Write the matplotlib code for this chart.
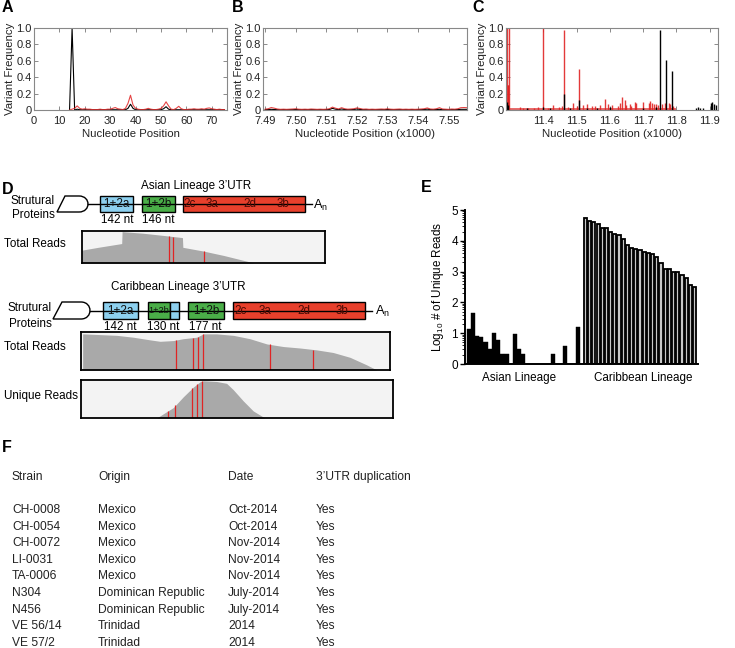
import numpy as np
import matplotlib.pyplot as plt
from matplotlib import font_manager
from matplotlib.patches import Rectangle, PathPatch
from matplotlib.path import Path

# the reference text is tall and narrow: use the narrow cut if it is there
_names = {f.name for f in font_manager.fontManager.ttflist}
if 'Liberation Sans Narrow' in _names:
    FONT, K = 'Liberation Sans Narrow', 1.0
else:
    FONT, K = 'Liberation Sans', 0.82
plt.rcParams['font.family'] = [FONT, 'DejaVu Sans']

# ---------------- data ----------------
# panel A: variant frequency at nucleotide positions 14-75
pos_A = np.arange(14, 76)
black_A = [0.0, 1.0, 0.0, 0.01, 0.003, 0.003, 0.003, 0.003, 0.003, 0.003,
           0.003, 0.003, 0.003, 0.003, 0.003, 0.003, 0.003, 0.003, 0.003, 0.003,
           0.003, 0.003, 0.003, 0.02, 0.07, 0.02, 0.003, 0.003, 0.003, 0.003,
           0.003, 0.003, 0.003, 0.003, 0.003, 0.003, 0.003, 0.015, 0.04, 0.01,
           0.003, 0.003, 0.003, 0.003, 0.003, 0.003, 0.003, 0.003, 0.003, 0.003,
           0.003, 0.003, 0.003, 0.003, 0.003, 0.003, 0.003, 0.003, 0.003, 0.003,
           0.003, 0.003]
red_A = [0.0, 0.01, 0.02, 0.05, 0.02, 0.01, 0.015, 0.01, 0.01, 0.005,
         0.005, 0.005, 0.01, 0.005, 0.005, 0.01, 0.01, 0.02, 0.03, 0.015,
         0.01, 0.005, 0.02, 0.08, 0.18, 0.06, 0.02, 0.01, 0.005, 0.005,
         0.01, 0.02, 0.01, 0.005, 0.005, 0.01, 0.02, 0.05, 0.10, 0.05,
         0.01, 0.005, 0.02, 0.045, 0.015, 0.005, 0.005, 0.01, 0.01, 0.015,
         0.01, 0.01, 0.015, 0.01, 0.02, 0.025, 0.015, 0.01, 0.005, 0.01,
         0.005, 0.005]

# panel B: positions 7490-7556 (plotted x1000)
pos_B = np.arange(7490, 7557)
red_B = [0.010, 0.015, 0.030, 0.022, 0.012, 0.008, 0.010, 0.008, 0.010, 0.012,
         0.015, 0.010, 0.008, 0.010, 0.008, 0.012, 0.010, 0.008, 0.010, 0.008,
         0.010, 0.015, 0.035, 0.022, 0.012, 0.028, 0.015, 0.010, 0.012, 0.015,
         0.025, 0.018, 0.010, 0.012, 0.008, 0.010, 0.008, 0.010, 0.012, 0.010,
         0.015, 0.010, 0.008, 0.010, 0.012, 0.008, 0.010, 0.008, 0.010, 0.008,
         0.010, 0.012, 0.015, 0.025, 0.012, 0.010, 0.015, 0.028, 0.012, 0.010,
         0.008, 0.012, 0.010, 0.015, 0.028, 0.030, 0.028]
black_B = [0.004, 0.005, 0.008, 0.006, 0.004, 0.003, 0.004, 0.003, 0.004, 0.004,
           0.006, 0.004, 0.003, 0.004, 0.003, 0.004, 0.004, 0.003, 0.004, 0.003,
           0.004, 0.006, 0.020, 0.010, 0.005, 0.012, 0.006, 0.004, 0.004, 0.006,
           0.012, 0.007, 0.004, 0.004, 0.003, 0.004, 0.003, 0.004, 0.004, 0.004,
           0.006, 0.004, 0.003, 0.004, 0.004, 0.003, 0.004, 0.003, 0.004, 0.003,
           0.004, 0.004, 0.006, 0.010, 0.005, 0.004, 0.006, 0.008, 0.004, 0.004,
           0.003, 0.004, 0.004, 0.005, 0.008, 0.008, 0.008]

# panel C: spikes (position, frequency)
red_C_pos = [11291, 11293, 11295, 11297, 11330, 11340, 11355, 11372, 11385, 11400,
             11415, 11430, 11447, 11455, 11463, 11475, 11490, 11500, 11508, 11520,
             11530, 11545, 11555, 11570, 11585, 11595, 11605, 11625, 11632, 11637,
             11645, 11650, 11660, 11665, 11675, 11680, 11700, 11718, 11722, 11726,
             11732, 11738, 11745, 11758, 11765, 11778, 11782, 11790]
red_C_val = [1.0, 0.3, 0.3, 1.0, 0.04, 0.03, 0.03, 0.03, 0.04, 1.0,
             0.03, 0.06, 0.04, 0.05, 0.97, 0.04, 0.08, 0.05, 0.50, 0.06,
             0.07, 0.05, 0.05, 0.06, 0.13, 0.07, 0.06, 0.05, 0.08, 0.16,
             0.12, 0.06, 0.07, 0.05, 0.10, 0.08, 0.10, 0.08, 0.11, 0.09,
             0.07, 0.07, 0.06, 0.07, 0.08, 0.09, 0.07, 0.05]
black_C_pos = [11292, 11295, 11350, 11400, 11420, 11463, 11480, 11508, 11530, 11560,
               11600, 11700, 11740, 11751, 11768, 11786, 11860, 11865, 11870, 11880,
               11905, 11908, 11912, 11920]
black_C_val = [0.10, 0.06, 0.02, 0.04, 0.02, 0.20, 0.03, 0.12, 0.03, 0.02,
               0.04, 0.03, 0.04, 0.98, 0.61, 0.47, 0.03, 0.04, 0.03, 0.02,
               0.08, 0.10, 0.07, 0.06]

# panel D: read coverage tracks (nt position, relative depth)
asian_total_pos = [0, 40, 98, 99, 150, 200, 248, 249, 300, 350, 400, 425]
asian_total_dep = [0.41, 0.50, 0.62, 1.0, 0.95, 0.88, 0.81, 0.50, 0.38, 0.24, 0.08, 0.0]
asian_total_snp = [215, 225, 301]

carib_total_pos = [4, 46, 87, 127, 167, 192, 224, 248, 281, 297, 329, 370, 410, 451,
                   491, 532, 572, 612, 653, 693, 718]
carib_total_dep = [0.97, 0.95, 0.93, 0.88, 0.81, 0.77, 0.79, 0.84, 0.88, 0.97, 0.97,
                   0.93, 0.84, 0.70, 0.63, 0.59, 0.54, 0.47, 0.34, 0.14, 0.0]
carib_total_snp = [231, 273, 283, 295, 459, 564]

carib_unique_pos = [182, 206, 222, 246, 270, 286, 294, 326, 350, 366, 390, 414, 442]
carib_unique_dep = [0.0, 0.17, 0.28, 0.57, 0.83, 0.97, 1.0, 0.98, 0.93, 0.76, 0.46, 0.19, 0.0]
carib_unique_snp = [210, 227, 268, 279, 291]

# panel E: log10 number of unique reads
asian_log = [1.13, 1.65, 0.91, 0.87, 0.70, 0.49, 1.0, 0.78, 0.31, 0.31,
             0, 0.96, 0.49, 0.31, 0, 0, 0, 0, 0, 0,
             0.31, 0, 0, 0.6, 0, 0, 1.19]
carib_log = [4.73, 4.64, 4.6, 4.55, 4.4, 4.4, 4.3, 4.22, 4.2, 4.05,
             3.86, 3.76, 3.73, 3.7, 3.63, 3.59, 3.57, 3.48, 3.27, 3.1,
             3.07, 3.0, 3.0, 2.89, 2.78, 2.56, 2.49]

# panel F: strain table
strains = ['CH-0008', 'CH-0054', 'CH-0072', 'LI-0031', 'TA-0006', 'N304', 'N456',
           'VE 56/14', 'VE 57/2']
origins = ['Mexico', 'Mexico', 'Mexico', 'Mexico', 'Mexico', 'Dominican Republic',
           'Dominican Republic', 'Trinidad', 'Trinidad']
dates = ['Oct-2014', 'Oct-2014', 'Nov-2014', 'Nov-2014', 'Nov-2014', 'July-2014',
         'July-2014', '2014', '2014']
duplication = ['Yes'] * 9
headers = ['Strain', 'Origin', 'Date', '3\u2019UTR duplication']

RED = '#e02424'
BLUE = '#8dd0ef'
GREEN = '#4aae48'
BOXRED = '#e8402c'
TXT = '#222222'

# font sizes (for the narrow cut)
FS_TICK = 9.8 * K
FS_LAB = 10 * K
FS_D = 10.2 * K
FS_TAB = 10.5 * K

# ---------------- figure ----------------
W, H = 735, 648
fig = plt.figure(figsize=(W / 100, H / 100), dpi=100)


def rect(l, t, r, b):
    return [l / W, 1 - b / H, (r - l) / W, (b - t) / H]


bg = fig.add_axes([0, 0, 1, 1])
bg.set_xlim(0, W)
bg.set_ylim(H, 0)
bg.axis('off')


def vf_axes(r):
    ax = fig.add_axes(r)
    ax.set_ylim(0, 1)
    ax.set_yticks([0, 0.2, 0.4, 0.6, 0.8, 1.0])
    ax.set_yticklabels(['0', '0.2', '0.4', '0.6', '0.8', '1.0'])
    ax.tick_params(direction='in', top=True, right=True, length=3, width=0.6,
                   labelsize=FS_TICK, color='#777', labelcolor=TXT)
    ax.tick_params(axis='x', pad=4.5)
    ax.tick_params(axis='y', pad=1.5)
    for s in ax.spines.values():
        s.set_color('#888')
        s.set_linewidth(0.8)
    ax.set_ylabel('Variant Frequency', fontsize=FS_LAB, color=TXT, labelpad=1)
    return ax


# A
axA = vf_axes(rect(34, 28, 227, 110))
axA.plot(pos_A, black_A, color='black', lw=0.8)
axA.plot(pos_A, red_A, color=RED, lw=0.8, alpha=0.85)
axA.set_xlim(0, 76)
axA.set_xticks(range(0, 80, 10))
axA.set_xlabel('Nucleotide Position', fontsize=FS_LAB, color=TXT, labelpad=2)

# B
axB = vf_axes(rect(263, 28, 467, 110))
axB.plot(pos_B / 1000, black_B, color='black', lw=0.8)
axB.plot(pos_B / 1000, red_B, color=RED, lw=0.8, alpha=0.85)
axB.set_xlim(7.4893, 7.556)
axB.set_xticks([7.49, 7.50, 7.51, 7.52, 7.53, 7.54, 7.55])
axB.set_xticklabels(['7.49', '7.50', '7.51', '7.52', '7.53', '7.54', '7.55'])
axB.set_xlabel('Nucleotide Position (x1000)', fontsize=FS_LAB, color=TXT, labelpad=2)

# C
axC = vf_axes(rect(506, 28, 718, 110))
axC.hlines(0.012, 11.29, 11.80, color=RED, lw=1.2, alpha=0.8)
axC.hlines(0.005, 11.29, 11.80, color='black', lw=0.8)
axC.vlines(np.array(red_C_pos) / 1000, 0, red_C_val, color=RED, lw=1.0, alpha=0.9)
axC.vlines(np.array(black_C_pos) / 1000, 0, black_C_val, color='black', lw=1.0)
axC.set_xlim(11.288, 11.925)
axC.set_xticks([11.4, 11.5, 11.6, 11.7, 11.8, 11.9])
axC.set_xticklabels(['11.4', '11.5', '11.6', '11.7', '11.8', '11.9'])
axC.set_xlabel('Nucleotide Position (x1000)', fontsize=FS_LAB, color=TXT, labelpad=2)

# panel letters
for lbl, x, y in [('A', 2, 8), ('B', 232, 8), ('C', 472, 8), ('D', 2, 189),
                  ('E', 421, 188), ('F', 2, 447)]:
    bg.text(x, y, lbl, fontsize=11.5, fontweight='bold', ha='left', va='center',
            family=['Liberation Sans', 'DejaVu Sans'])


# ---------------- D: UTR diagrams ----------------
def protein_shape(xl_bot, xl_top, x_right, y_top, y_bot):
    xr = x_right - 9
    k = xr + 9 / 0.75
    verts = [(xl_bot, y_bot), (xl_top, y_top), (xr, y_top),
             (k, y_top), (k, y_bot), (xr, y_bot), (xl_bot, y_bot)]
    codes = [Path.MOVETO, Path.LINETO, Path.LINETO,
             Path.CURVE4, Path.CURVE4, Path.CURVE4, Path.CLOSEPOLY]
    bg.add_patch(PathPatch(Path(verts, codes), facecolor='white',
                           edgecolor='black', lw=1.0))


def utr(y_top, y_bot, line_x0, line_x1, boxes, red_labels, an_x, nts):
    ym = (y_top + y_bot) / 2
    bg.plot([line_x0, line_x1], [ym, ym], color='black', lw=1.0)
    for x0, x1, col, lab, fs in boxes:
        bg.add_patch(Rectangle((x0, y_top), x1 - x0, y_bot - y_top,
                               facecolor=col, edgecolor='black', lw=1.0))
        if lab:
            bg.text((x0 + x1) / 2, ym, lab, fontsize=fs, ha='center',
                    va='center', color='#111')
    for lab, x in red_labels:
        bg.text(x, ym, lab, fontsize=FS_D, ha='center', va='center', color='#4a0a04')
    bg.text(an_x, ym + 1, r'A$_\mathregular{n}$', fontsize=FS_D + K, ha='left',
            va='center')
    for lab, x in nts:
        bg.text(x, y_bot + 8, lab, fontsize=FS_D, ha='center', va='center')


# Asian lineage
bg.text(196, 186, 'Asian Lineage 3\u2019UTR', fontsize=FS_D, ha='center', va='center')
bg.text(55, 208, 'Strutural\nProteins', fontsize=FS_D, ha='right', va='center',
        linespacing=1.3)
protein_shape(57, 65, 88, 196, 212)
utr(196, 212, 88, 312,
    [(100, 133, BLUE, '1+2a', FS_D), (142, 175, GREEN, '1+2b', FS_D),
     (183, 305, BOXRED, '', FS_D)],
    [('2c', 190), ('3a', 212), ('2d', 250), ('3b', 283)], 313,
    [('142 nt', 117), ('146 nt', 158)])

# Caribbean lineage
bg.text(178, 287, 'Caribbean Lineage 3\u2019UTR', fontsize=FS_D, ha='center', va='center')
bg.text(52, 316, 'Strutural\nProteins', fontsize=FS_D, ha='right', va='center',
        linespacing=1.4)
protein_shape(53, 62, 90, 302, 319)
utr(302, 319, 90, 372,
    [(103, 138, BLUE, '1+2a', FS_D), (148, 170, GREEN, '1+2b', 8 * K),
     (170, 179, BLUE, '', FS_D), (188, 224, GREEN, '1+2b', FS_D),
     (233, 365, BOXRED, '', FS_D)],
    [('2c', 241), ('3a', 265), ('2d', 304), ('3b', 342)], 375,
    [('142 nt', 120), ('130 nt', 163), ('177 nt', 205)])


def track(r, pos, dep, snps, xmax, label, label_y):
    ax = fig.add_axes(r)
    ax.set_facecolor('#f3f3f3')
    ax.fill_between(pos, 0, dep, color='#a9a9a9', lw=0)
    ax.vlines(snps, 0, np.interp(snps, pos, dep), color=RED, lw=0.9)
    ax.set_xlim(0, xmax)
    ax.set_ylim(0, 1.02)
    ax.set_xticks([])
    ax.set_yticks([])
    for s in ax.spines.values():
        s.set_linewidth(1.3)
    bg.text(4, label_y, label, fontsize=FS_D, ha='left', va='center')
    return ax


track(rect(82, 231, 325, 263), asian_total_pos, asian_total_dep, asian_total_snp,
      600, 'Total Reads', 244)
track(rect(81, 332, 390, 370), carib_total_pos, carib_total_dep, carib_total_snp,
      750, 'Total Reads', 347)
track(rect(81, 380, 393, 418), carib_unique_pos, carib_unique_dep, carib_unique_snp,
      750, 'Unique Reads', 396)

# ---------------- E: bar chart ----------------
axE = fig.add_axes(rect(465, 210, 698, 364))
xa = np.arange(len(asian_log))
xc = np.arange(len(carib_log)) + len(asian_log) + 0.8
axE.bar(xa, asian_log, width=1.0, color='black', edgecolor='black', lw=0.3)
axE.bar(xc, carib_log, width=0.75, color='#c8c8c8', edgecolor='black', lw=1.3)
axE.set_xlim(-0.9, xc[-1] + 0.8)
axE.set_ylim(0, 5)
axE.spines['top'].set_visible(False)
axE.spines['right'].set_visible(False)
axE.spines['left'].set_linewidth(1.4)
axE.spines['bottom'].set_linewidth(1.4)
axE.set_yticks(range(6))
axE.set_yticks([k + np.log10(m) for k in range(5) for m in range(2, 10)], minor=True)
axE.tick_params(axis='y', which='major', length=3.5, width=1.0, labelsize=FS_TICK + 0.5 * K,
                pad=1.5)
axE.tick_params(axis='y', which='minor', length=2, width=0.6)
axE.set_xticks([12, 41.5])
axE.set_xticklabels(['Asian Lineage', 'Caribbean Lineage'])
axE.tick_params(axis='x', length=0, labelsize=FS_D, pad=6)
axE.set_ylabel(r'Log$_\mathregular{10}$ # of Unique Reads', fontsize=FS_D, labelpad=4)

# ---------------- F: table ----------------
col_x = [12, 98, 228, 316]
for x, h in zip(col_x, headers):
    bg.text(x, 477, h, fontsize=FS_TAB, ha='left', va='center', color=TXT)
for i, row in enumerate(zip(strains, origins, dates, duplication)):
    for x, v in zip(col_x, row):
        bg.text(x, 510 + 16.6 * i, v, fontsize=FS_TAB, ha='left', va='center', color=TXT)

fig.savefig('out.png', dpi=100)
